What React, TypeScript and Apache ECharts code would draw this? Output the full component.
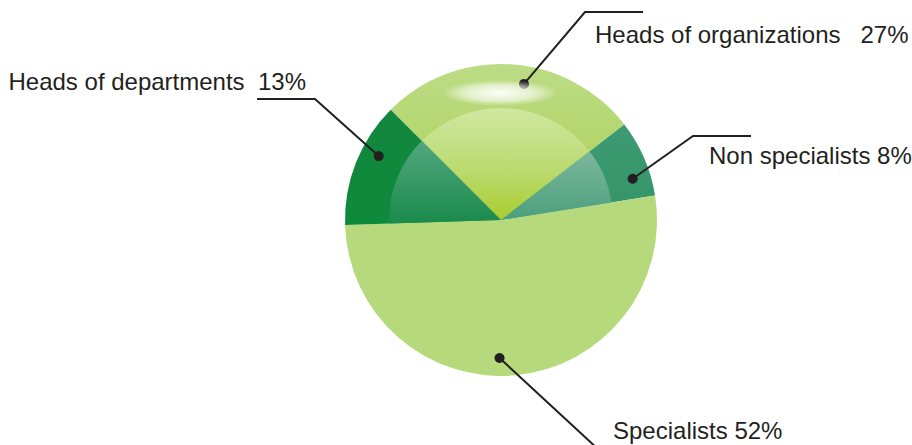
import React, { useEffect, useRef } from "react";
import * as echarts from "echarts";

// ---- data ----
const categories = ["Heads of organizations", "Non specialists", "Specialists", "Heads of departments"];
const values = [27, 8, 52, 13];
const labelGaps = ["   ", " ", " ", "  "];

// ---- styling / layout (not data) ----
const CENTER: [number, number] = [501, 220];
const OUTER_R = 156;
const INNER_R = 112;
const DOT_R = 138;
const START = 135;
const LABEL_START = 129;
const INK = "#231f20";

const vgrad = (stops: [number, string][]) => ({
  type: "linear", x: 0, y: 0, x2: 0, y2: 1,
  colorStops: stops.map(([offset, color]) => ({ offset, color })),
});

const outerColors = [
  vgrad([[0, "#bcdc86"], [0.5, "#b4d66c"], [1, "#a9cd45"]]),
  vgrad([[0, "#3d9a72"], [1, "#35946a"]]),
  "#b6d97b",
  vgrad([[0, "#11873d"], [1, "#0f8a3c"]]),
];
const innerColors = [
  vgrad([[0, "#cfe7a0"], [0.55, "#bbdb70"], [1, "#a8cc2e"]]),
  vgrad([[0, "#7cb89c"], [1, "#4b9f7e"]]),
  "rgba(0,0,0,0)",
  vgrad([[0, "#52a77f"], [1, "#1b8a4b"]]),
];

// label elbow / horizontal end / text anchor (layout only)
const labelPlace = [
  { elbow: [585, 12], end: [643, 12], text: [595, 34], align: "left" },
  { elbow: [693, 136], end: [751, 136], text: [709, 155], align: "left" },
  { elbow: [599, 450], end: [657, 450], text: [613, 430], align: "left" },
  { elbow: [315, 99], end: [257, 99], text: [306, 81], align: "right" },
];

export default function App() {
  const ref = useRef<HTMLDivElement>(null);
  useEffect(() => {
    if (!ref.current) return;
    const chart = echarts.init(ref.current, null, { renderer: "svg" });
    const total = values.reduce((a, b) => a + b, 0);
    let cum = 0;
    const mids = values.map((v) => {
      const m = ((cum + v / 2) / total) * 100;
      cum += v;
      return m;
    });
    chart.setOption({
      animation: false,
      backgroundColor: "#ffffff",
      polar: { center: CENTER, radius: DOT_R },
      angleAxis: { type: "value", min: 0, max: 100, startAngle: LABEL_START, clockwise: true, show: false },
      radiusAxis: { type: "value", min: 0, max: 1, show: false },
      graphic: [
        {
          type: "ellipse",
          z: 100,
          silent: true,
          shape: { cx: 500, cy: 93, rx: 58, ry: 13 },
          style: {
            fill: {
              type: "radial", x: 0.5, y: 0.5, r: 0.5,
              colorStops: [
                { offset: 0, color: "rgba(255,255,255,0.95)" },
                { offset: 0.6, color: "rgba(255,255,255,0.6)" },
                { offset: 1, color: "rgba(255,255,255,0)" },
              ],
            },
          },
        },
      ],
      series: [
        {
          type: "pie",
          center: CENTER,
          radius: [0, OUTER_R],
          startAngle: START,
          clockwise: true,
          silent: true,
          label: { show: false },
          labelLine: { show: false },
          data: categories.map((name, i) => ({ name, value: values[i], itemStyle: { color: outerColors[i] } })),
        },
        {
          type: "pie",
          center: CENTER,
          radius: [0, INNER_R],
          startAngle: START,
          clockwise: true,
          silent: true,
          label: { show: false },
          labelLine: { show: false },
          data: categories.map((name, i) => ({ name, value: values[i], itemStyle: { color: innerColors[i] } })),
        },
        {
          type: "pie",
          center: CENTER,
          radius: [0, DOT_R],
          startAngle: LABEL_START,
          clockwise: true,
          silent: true,
          avoidLabelOverlap: false,
          z: 5,
          itemStyle: { color: "rgba(0,0,0,0)" },
          label: {
            show: true,
            position: "outside",
            color: INK,
            fontFamily: "Liberation Sans, Arial, sans-serif",
            fontSize: 24,
            formatter: (p: any) => `${p.name}${labelGaps[p.dataIndex]}${p.value}%`,
          },
          labelLine: { show: true, length: 20, length2: 20, lineStyle: { color: INK, width: 2 } },
          labelLayout: (p: any) => {
            const lp = labelPlace[p.dataIndex];
            const start = p.labelLinePoints ? p.labelLinePoints[0] : lp.elbow;
            return {
              x: lp.text[0],
              y: lp.text[1],
              align: lp.align,
              verticalAlign: "middle",
              labelLinePoints: [start, lp.elbow, lp.end],
            };
          },
          data: categories.map((name, i) => ({ name, value: values[i] })),
        },
        {
          type: "scatter",
          coordinateSystem: "polar",
          symbol: "circle",
          symbolSize: 10,
          z: 10,
          silent: true,
          itemStyle: { color: INK, opacity: 1 },
          data: mids.map((m) => [1, m]),
        },
      ],
    });
    return () => chart.dispose();
  }, []);
  return <div ref={ref} style={{ position: "fixed", left: 0, top: 0, width: 912, height: 445 }} />;
}
